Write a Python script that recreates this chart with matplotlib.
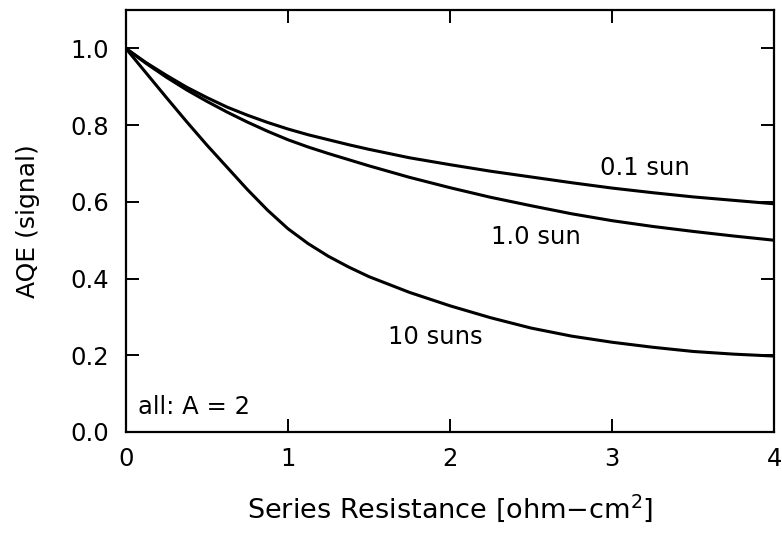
import matplotlib
matplotlib.use("Agg")
import matplotlib.pyplot as plt

# Series resistance [ohm-cm^2]
r_s = [0.0, 0.125, 0.25, 0.375, 0.5, 0.625, 0.75, 0.875, 1.0, 1.125, 1.25, 1.375, 1.5,
       1.75, 2.0, 2.25, 2.5, 2.75, 3.0, 3.25, 3.5, 3.75, 4.0]

# AQE signal for each illumination level
aqe_01sun = [1.0, 0.963, 0.93, 0.899, 0.872, 0.847, 0.826, 0.807, 0.79, 0.775, 0.762, 0.749, 0.737,
             0.715, 0.697, 0.68, 0.665, 0.65, 0.636, 0.624, 0.613, 0.604, 0.595]
aqe_1sun = [1.0, 0.961, 0.925, 0.892, 0.862, 0.834, 0.808, 0.784, 0.762, 0.743, 0.726, 0.71, 0.694,
            0.664, 0.637, 0.612, 0.59, 0.569, 0.551, 0.536, 0.523, 0.511, 0.50]
aqe_10sun = [1.0, 0.936, 0.872, 0.809, 0.748, 0.69, 0.632, 0.578, 0.53, 0.491, 0.458, 0.43, 0.405,
             0.364, 0.329, 0.298, 0.271, 0.25, 0.234, 0.221, 0.21, 0.203, 0.198]

series_labels = ["0.1 sun", "1.0 sun", "10 suns"]
label_pos = [(3.2, 0.688), (2.53, 0.509), (1.91, 0.248)]

x_ticks = [0, 1, 2, 3, 4]
y_ticks = [0.0, 0.2, 0.4, 0.6, 0.8, 1.0]

plt.rcParams["font.family"] = ["DejaVu Sans"]
fs = 17.5

fig = plt.figure(figsize=(7.82, 5.33), dpi=100)
ax = fig.add_axes([0.161, 0.1895, 0.829, 0.7915])

for y in (aqe_01sun, aqe_1sun, aqe_10sun):
    ax.plot(r_s, y, color="black", lw=2.2, solid_capstyle="butt", solid_joinstyle="round")

for text, (tx, ty) in zip(series_labels, label_pos):
    ax.text(tx, ty, text, ha="center", va="center", fontsize=fs)

ax.text(0.074, 0.065, "all: A = 2", ha="left", va="center", fontsize=fs)

ax.set_xlim(0, 4)
ax.set_ylim(0, 1.1)
ax.set_xticks(x_ticks)
ax.set_xticklabels([str(t) for t in x_ticks])
ax.set_yticks(y_ticks)
ax.set_yticklabels([f"{t:.1f}" for t in y_ticks])

ax.tick_params(axis="both", which="major", direction="in", length=9.5, width=1.4,
               labelsize=fs, top=True, right=True, color="black")
ax.tick_params(axis="x", pad=11)
ax.tick_params(axis="y", pad=12)

for sp in ax.spines.values():
    sp.set_linewidth(1.6)
    sp.set_color("black")

ax.set_xlabel("Series Resistance [ohm$-$cm$^2$]", fontsize=19.5, labelpad=15)
ax.set_ylabel("AQE (signal)", fontsize=18, labelpad=22)

fig.savefig("out.png", dpi=100, facecolor="white")
